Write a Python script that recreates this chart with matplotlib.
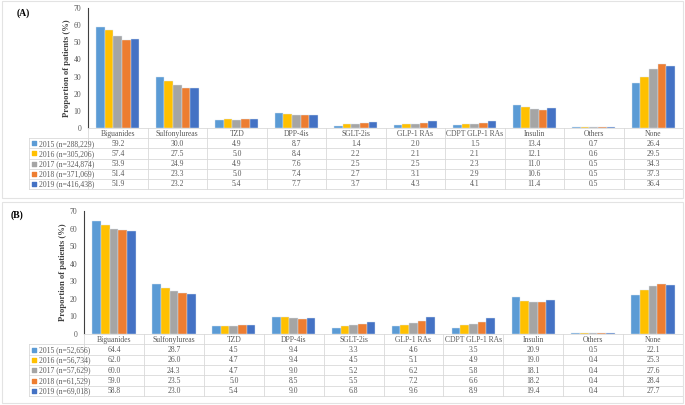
import matplotlib.pyplot as plt
from matplotlib.patches import Rectangle
import numpy as np

plt.rcParams['font.family'] = ['Liberation Serif', 'DejaVu Serif']

categories = ['Biguanides', 'Sulfonylureas', 'TZD', 'DPP-4is', 'SGLT-2is',
              'GLP-1 RAs', 'CDPT GLP-1 RAs', 'Insulin', 'Others', 'None']
years = ['2015', '2016', '2017', '2018', '2019']
colors = ['#5B9BD5', '#FFC000', '#A5A5A5', '#ED7D31', '#4472C4']

labels_a = ['2015 (n=288,229)', '2016 (n=305,206)', '2017 (n=324,874)',
            '2018 (n=371,069)', '2019 (n=416,438)']
values_a = [
    [59.2, 30.0, 4.9, 8.7, 1.4, 2.0, 1.5, 13.4, 0.7, 26.4],
    [57.4, 27.5, 5.0, 8.4, 2.2, 2.1, 2.1, 12.1, 0.6, 29.5],
    [53.9, 24.9, 4.9, 7.6, 2.5, 2.5, 2.3, 11.0, 0.5, 34.3],
    [51.4, 23.3, 5.0, 7.4, 2.7, 3.1, 2.9, 10.6, 0.5, 37.3],
    [51.9, 23.2, 5.4, 7.7, 3.7, 4.3, 4.1, 11.4, 0.5, 36.4],
]

labels_b = ['2015 (n=52,656)', '2016 (n=56,734)', '2017 (n=57,629)',
            '2018 (n=61,529)', '2019 (n=69,018)']
values_b = [
    [64.4, 28.7, 4.5, 9.4, 3.3, 4.6, 3.5, 20.9, 0.5, 22.1],
    [62.0, 26.0, 4.7, 9.4, 4.5, 5.1, 4.9, 19.0, 0.4, 25.3],
    [60.0, 24.3, 4.7, 9.0, 5.2, 6.2, 5.8, 18.1, 0.4, 27.6],
    [59.0, 23.5, 5.0, 8.5, 5.5, 7.2, 6.6, 18.2, 0.4, 28.4],
    [58.8, 23.0, 5.4, 9.0, 6.8, 9.6, 8.9, 19.4, 0.4, 27.7],
]

W, H = 685, 405
fig = plt.figure(figsize=(W / 100, H / 100), dpi=100)

GRID = '#D9D9D9'
TXT = '#595959'


def px(x0, y0, x1, y1):
    # pixel box (top-left origin) -> figure fraction rect
    return [x0 / W, 1 - y1 / H, (x1 - x0) / W, (y1 - y0) / H]


def panel(tag, tag_xy, values, labels, left, top, base, tbottom, tleft, right=683):
    ax = fig.add_axes(px(left, top, right, base))
    x = np.arange(len(categories))
    bw = 0.145
    for i, vals in enumerate(values):
        ax.bar(x + (i - 2) * bw, vals, width=bw, color=colors[i],
               edgecolor='#DDE6F0', linewidth=0.3, zorder=2)
    ax.set_xlim(-0.5, len(categories) - 0.5)
    ax.set_ylim(0, 70)
    ax.set_yticks(range(0, 71, 10))
    ax.set_xticks([])
    for s in ['top', 'right', 'bottom']:
        ax.spines[s].set_visible(False)
    ax.spines['left'].set_color('#404040')
    ax.spines['left'].set_linewidth(0.8)
    ax.tick_params(axis='y', length=0, labelsize=5.5, labelcolor=TXT, pad=5)
    ax.set_ylabel('Proportion of patients (%)', fontsize=6.2, fontweight='bold',
                  color='#404040', labelpad=1.5)
    fig.text(tag_xy[0] / W, 1 - tag_xy[1] / H, tag, fontsize=7, fontweight='bold',
             va='center', ha='left')

    # data table under the bars
    tax = fig.add_axes(px(left, base, right, tbottom), sharex=ax)
    tax.set_ylim(6, 0)
    tax.axis('off')
    colw = (right - left) / len(categories)
    lx = -0.5 - (left - tleft) / colw
    kw = dict(color=GRID, lw=0.6, clip_on=False)
    tax.plot([-0.5, 9.5], [0, 0], **kw)
    for r in range(1, 7):
        tax.plot([lx, 9.5], [r, r], **kw)
    for c in range(len(categories) + 1):
        tax.plot([c - 0.5, c - 0.5], [0, 6], **kw)
    tax.plot([lx, lx], [1, 6], **kw)
    for c, name in enumerate(categories):
        tax.text(c, 0.55, name, ha='center', va='center', fontsize=5.5, color=TXT)
    for r, vals in enumerate(values):
        for c, v in enumerate(vals):
            tax.text(c, r + 1.55, f'{v:.1f}', ha='center', va='center',
                     fontsize=5.5, color=TXT)
        tax.scatter([lx + 0.09], [r + 1.5], marker='s', s=7, color=colors[r],
                    clip_on=False)
        tax.text(lx + 0.16, r + 1.55, labels[r], ha='left', va='center',
                 fontsize=5.5, color=TXT, clip_on=False)


panel('(A)', (17, 13), values_a, labels_a, 88, 8, 128, 189, 29)
panel('(B)', (11, 215), values_b, labels_b, 84, 211, 334, 396, 29)

# light frames around the two panels
for y0, y1 in [(1, 198), (202, 403)]:
    fig.patches.append(Rectangle((1.5 / W, 1 - y1 / H), (683 - 1.5) / W, (y1 - y0) / H,
                                 transform=fig.transFigure, fill=False,
                                 edgecolor='#E3E3E3', lw=0.8))

fig.savefig('out.png', dpi=100)
